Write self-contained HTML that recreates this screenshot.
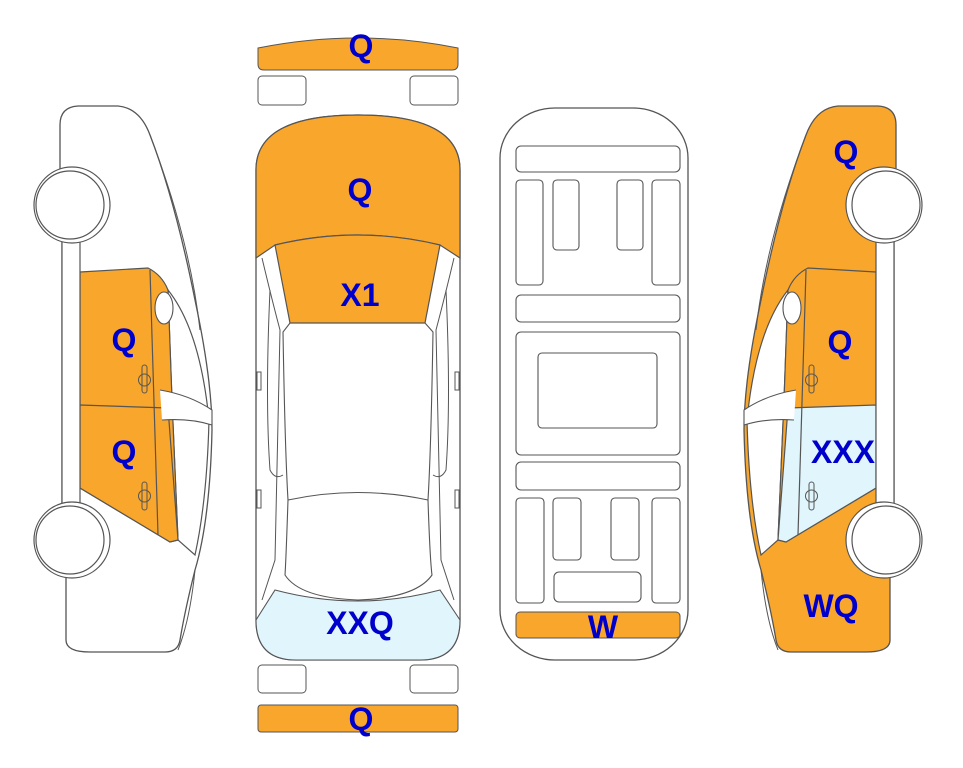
<!DOCTYPE html>
<html><head><meta charset="utf-8"><style>
html,body{margin:0;padding:0;background:#fff;}
svg{display:block;}
text{font-family:"Liberation Sans",Arial,sans-serif;font-weight:bold;fill:#0000cc;font-size:32px;text-anchor:middle;}
</style></head><body>
<svg width="963" height="768" viewBox="0 0 963 768" xmlns="http://www.w3.org/2000/svg">
<defs>
<g id="side">
  <path d="M78,106 L118,106 Q140,108 150,135 Q175,200 195,300 Q212,380 212,430 Q210,520 195,570 Q185,610 180,640 Q178,652 165,652 L90,652 Q66,652 66,640 L66,575 L62,505 L62,240 L60,172 L60,125 Q60,107 78,106 Z" fill="var(--body)" stroke="#555" stroke-width="1.3"/>
  <path d="M168,290 Q200,330 209,420 Q207,500 195,555 L178,540 L172,400 Z" fill="#fff" stroke="#555" stroke-width="1.2"/>
  <path d="M80,272 L148,268 Q162,275 168,290 L172,400 L178,540 L170,542 L80,488 Z" fill="var(--door1)" stroke="#555" stroke-width="1.2"/>
  <path d="M80,405 L168,408 L178,540 L170,542 L80,488 Z" fill="var(--door2)" stroke="#555" stroke-width="1.2"/>
  <line x1="150" y1="270" x2="158" y2="535" stroke="#555" stroke-width="1.2"/>
  <rect x="62" y="240" width="18" height="265" fill="#fff" stroke="#555" stroke-width="1.2"/>
  <path d="M160,390 Q190,395 212,410 L212,425 Q190,418 162,420" fill="#fff" stroke="#555" stroke-width="1.1"/>
  <path d="M150,135 Q190,240 200,330" fill="none" stroke="#555" stroke-width="1"/>
  <path d="M195,570 Q190,620 178,650" fill="none" stroke="#555" stroke-width="1"/>
  <ellipse cx="164" cy="308" rx="9" ry="16" fill="#fff" stroke="#555" stroke-width="1.1"/>
  <rect x="142" y="365" width="5" height="28" rx="2.5" fill="none" stroke="#555"/>
  <circle cx="144.5" cy="380" r="6" fill="none" stroke="#555"/>
  <rect x="142" y="482" width="5" height="28" rx="2.5" fill="none" stroke="#555"/>
  <circle cx="144.5" cy="496" r="6" fill="none" stroke="#555"/>
  <circle cx="72" cy="205" r="38" fill="#fff" stroke="#555" stroke-width="1.2"/>
  <circle cx="70" cy="205" r="34" fill="#fff" stroke="#555" stroke-width="1.2"/>
  <circle cx="72" cy="540" r="38" fill="#fff" stroke="#555" stroke-width="1.2"/>
  <circle cx="70" cy="540" r="34" fill="#fff" stroke="#555" stroke-width="1.2"/>
</g>
</defs>

<!-- left car -->
<g style="--body:#fff;--door1:#f9a62c;--door2:#f9a62c"><use href="#side"/></g>
<text x="124" y="351">Q</text>
<text x="124" y="463">Q</text>

<!-- right car -->
<g style="--body:#f9a62c;--door1:#f9a62c;--door2:#e0f5fc" transform="translate(956,0) scale(-1,1)"><use href="#side"/></g>
<text x="846" y="163">Q</text>
<text x="840" y="353">Q</text>
<text x="843" y="463">XXX</text>
<text x="831" y="617">WQ</text>

<!-- center top view -->
<path d="M258,48 Q358,28 458,48 L458,64 Q458,70 452,70 L264,70 Q258,70 258,64 Z" fill="#f9a62c" stroke="#555"/>
<text x="361" y="57">Q</text>
<rect x="258" y="76" width="48" height="29" rx="4" fill="#fff" stroke="#555"/>
<rect x="410" y="76" width="48" height="29" rx="4" fill="#fff" stroke="#555"/>
<path d="M256,170 Q256,115 358,115 Q460,115 460,170 L460,620 Q460,660 420,660 L296,660 Q256,660 256,620 Z" fill="#fff" stroke="#555" stroke-width="1.3"/>
<path d="M256,620 L275,590 Q358,612 440,590 L460,620 Q460,660 420,660 L296,660 Q256,660 256,620 Z" fill="#e0f5fc" stroke="#555" stroke-width="1.1"/>
<path d="M256,170 Q256,115 358,115 Q460,115 460,170 L460,258 L440,245 Q358,225 275,245 L256,258 Z" fill="#f9a62c" stroke="#555" stroke-width="1.2"/>
<path d="M275,245 Q358,225 440,245 L425,323 L290,323 Z" fill="#f9a62c" stroke="#555" stroke-width="1.2"/>
<path d="M290,323 L283,332 Q285,450 288,500 Q286,560 285,575 Q300,598 358,600 Q416,598 432,575 Q430,560 428,500 Q431,450 433,332 L425,323" fill="none" stroke="#555" stroke-width="1.1"/>
<path d="M288,500 Q358,485 428,500" fill="none" stroke="#555" stroke-width="1.1"/>
<path d="M262,258 Q272,300 280,330 L275,560 L262,600" fill="none" stroke="#555"/>
<path d="M454,258 Q444,300 436,330 L441,560 L454,600" fill="none" stroke="#555"/>
<path d="M270,290 Q265,400 270,470 Q275,480 283,475" fill="none" stroke="#555"/>
<path d="M446,290 Q451,400 446,470 Q441,480 433,475" fill="none" stroke="#555"/>
<rect x="257" y="372" width="4" height="18" fill="#fff" stroke="#555"/>
<rect x="455" y="372" width="4" height="18" fill="#fff" stroke="#555"/>
<rect x="257" y="490" width="4" height="18" fill="#fff" stroke="#555"/>
<rect x="455" y="490" width="4" height="18" fill="#fff" stroke="#555"/>
<text x="360" y="201">Q</text>
<text x="360" y="306">X1</text>
<text x="360" y="634">XXQ</text>
<rect x="258" y="665" width="48" height="28" rx="4" fill="#fff" stroke="#555"/>
<rect x="410" y="665" width="48" height="28" rx="4" fill="#fff" stroke="#555"/>
<rect x="258" y="705" width="200" height="27" rx="3" fill="#f9a62c" stroke="#555"/>
<text x="361" y="730">Q</text>

<!-- underside view -->
<rect x="500" y="108" width="188" height="552" rx="55" ry="50" fill="#fff" stroke="#555" stroke-width="1.3"/>
<g fill="#fff" stroke="#555" stroke-width="1.1">
<rect x="516" y="146" width="164" height="26" rx="5"/>
<rect x="516" y="180" width="27" height="105" rx="4"/>
<rect x="553" y="180" width="26" height="70" rx="4"/>
<rect x="617" y="180" width="26" height="70" rx="4"/>
<rect x="652" y="180" width="28" height="105" rx="4"/>
<rect x="516" y="295" width="164" height="27" rx="5"/>
<rect x="516" y="332" width="164" height="123" rx="5"/>
<rect x="538" y="353" width="119" height="75" rx="4"/>
<rect x="516" y="462" width="164" height="28" rx="5"/>
<rect x="516" y="498" width="28" height="105" rx="4"/>
<rect x="553" y="498" width="28" height="62" rx="4"/>
<rect x="611" y="498" width="28" height="62" rx="4"/>
<rect x="652" y="498" width="28" height="105" rx="4"/>
<rect x="554" y="572" width="87" height="30" rx="5"/>
</g>
<rect x="516" y="612" width="164" height="26" rx="4" fill="#f9a62c" stroke="#555"/>
<text x="603" y="638">W</text>
</svg>
</body></html>
